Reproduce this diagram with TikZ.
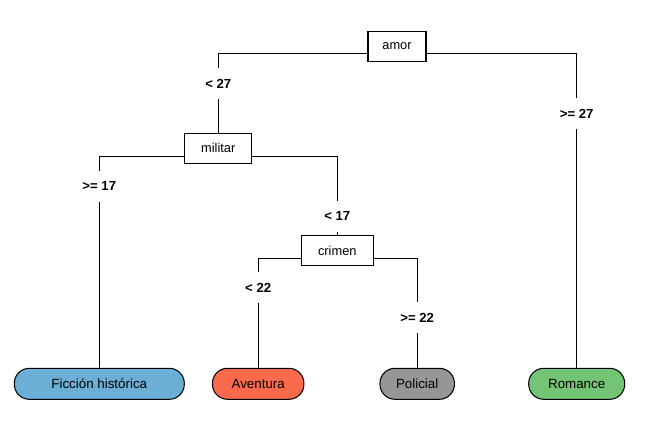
\documentclass[tikz,border=0pt]{standalone}
\usepackage{xcolor}
\usepackage{fontspec}
\setmainfont{Liberation Sans}
\usetikzlibrary{positioning,calc}

\definecolor{leafblue}{HTML}{6BAED6}
\definecolor{leafred}{HTML}{FB6A4A}
\definecolor{leafgrey}{HTML}{969696}
\definecolor{leafgreen}{HTML}{74C476}

\tikzset{
	splitbox/.style={draw, fill=white, minimum height=0.6cm, inner xsep=0pt, font=\fontsize{7.3}{8}\selectfont},
	leafbox/.style={draw, rounded corners=0.3cm, minimum height=0.62cm, inner xsep=0pt, font=\fontsize{7.6}{9}\selectfont},
	rulelabel/.style={fill=white, inner xsep=1pt, minimum height=0.62cm, font=\bfseries\fontsize{7.5}{9}\selectfont},
}

\begin{document}
\begin{tikzpicture}[x=0.02cm, y=-0.02cm, line width=0.6pt]
			\useasboundingbox (0,0) rectangle (650,431);
			\node[splitbox, minimum width=1.16cm] (amor) at (397,46.3) {amor};
			\node[splitbox, minimum width=1.34cm] (militar) at (218.3,148.3) {militar};
			\node[splitbox, minimum width=1.45cm] (crimen) at (337.3,250.7) {crimen};
			\coordinate (amorS) at (397,53.5);
			\coordinate (militarS) at (218.3,156.5);
			\coordinate (crimenS) at (337.3,258.5);
			\node[leafbox, fill=leafblue, minimum width=3.4cm] (ficcion) at (99.3,383.8) {Ficción histórica};
			\node[leafbox, fill=leafred, minimum width=1.83cm] (aventura) at (258.2,383.8) {Aventura};
			\node[leafbox, fill=leafgrey, minimum width=1.49cm] (policial) at (417.2,383.8) {Policial};
			\node[leafbox, fill=leafgreen, minimum width=1.92cm] (romance) at (576.7,383.8) {Romance};
			\draw[] (amor.west |- amorS) -| (militar.north);
			\draw[] (amor.east |- amorS) -| (romance.north);
			\draw[] (militar.west |- militarS) -| (ficcion.north);
			\draw[] (militar.east |- militarS) -| (crimen.north);
			\draw[] (crimen.west |- crimenS) -| (aventura.north);
			\draw[] (crimen.east |- crimenS) -| (policial.north);
			\node[rulelabel] (l27) at (218.3,84) {< 27};
			\node[rulelabel] (r27) at (576.7,113.8) {>= 27};
			\node[rulelabel] (l17) at (99.3,186.3) {>= 17};
			\node[rulelabel] (r17) at (337.3,216.3) {< 17};
			\node[rulelabel] (l22) at (258.2,288) {< 22};
			\node[rulelabel] (r22) at (417.2,318) {>= 22};
		\end{tikzpicture}
\end{document}
